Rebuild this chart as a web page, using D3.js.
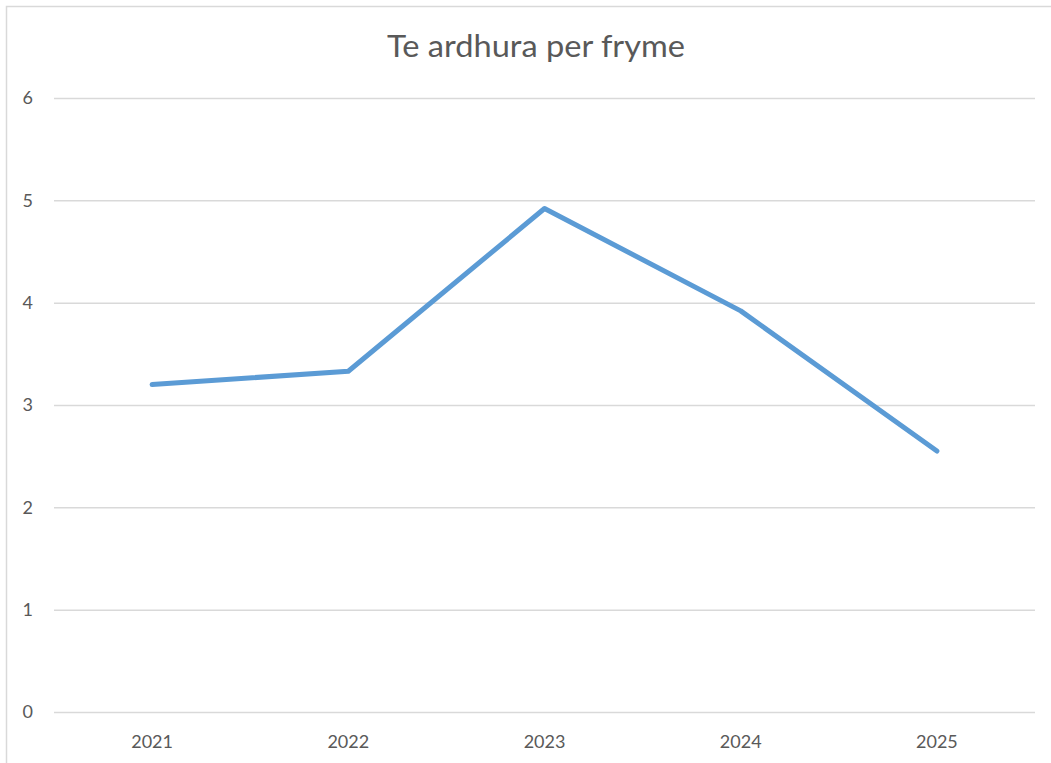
<!DOCTYPE html>
<html><head><meta charset="utf-8">
<script src="https://cdn.jsdelivr.net/npm/d3@7"></script>
<style>html,body{margin:0;padding:0;background:#fff;overflow:hidden}</style>
</head><body>
<svg id="c" width="1051" height="763"></svg>
<script>
const title = "Te ardhura per fryme";
const categories = ["2021","2022","2023","2024","2025"];
const values = [3.2, 3.33, 4.92, 3.92, 2.55];
const yTicks = [0,1,2,3,4,5,6];

(function(){
const svg = d3.select("#c");
const font = "Lato, 'Open Sans', sans-serif";
svg.append("rect").attr("x",6.5).attr("y",6.5).attr("width",1060).attr("height",770)
  .attr("fill","#fff").attr("stroke","#d9d9d9").attr("stroke-width",1.5);

const mL=54, mR=1035, mT=98, mB=712;
const x = d3.scaleBand().domain(categories).range([mL,mR]);
const y = d3.scaleLinear().domain([0,6]).range([mB,mT]);

const yAxis = svg.append("g").attr("transform",`translate(${mL},0)`)
  .call(d3.axisLeft(y).tickValues(yTicks).tickFormat(d3.format("d")).tickSize(-(mR-mL)).tickPadding(21));
yAxis.select(".domain").remove();
yAxis.selectAll(".tick line").attr("stroke","#d9d9d9").attr("stroke-width",1.5);
yAxis.selectAll(".tick text").attr("fill","#595959").attr("font-size",18).attr("font-family",font);

const xAxis = svg.append("g").attr("transform",`translate(0,${mB})`)
  .call(d3.axisBottom(x).tickSize(0).tickPadding(23));
xAxis.select(".domain").remove();
xAxis.selectAll(".tick text").attr("fill","#595959").attr("font-size",18).attr("font-family",font);

const line = d3.line().x((d,i)=>x(categories[i])+x.bandwidth()/2).y(d=>y(d));
svg.append("path").datum(values).attr("d",line).attr("fill","none")
  .attr("stroke","#5b9bd5").attr("stroke-width",5).attr("stroke-linecap","round").attr("stroke-linejoin","round");

svg.append("text").attr("x",536).attr("y",57).attr("text-anchor","middle")
  .attr("fill","#595959").attr("font-size",31).attr("font-family",font)
  .attr("textLength",298).attr("lengthAdjust","spacingAndGlyphs").text(title);
})();
</script>
</body></html>
